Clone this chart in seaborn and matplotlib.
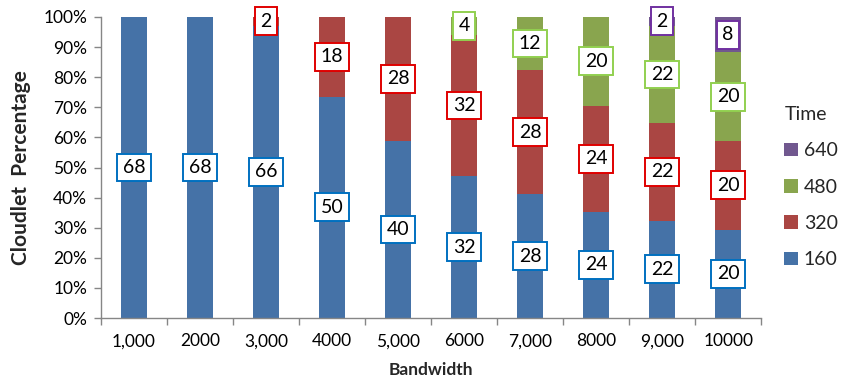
import matplotlib
matplotlib.use("Agg")
import matplotlib.pyplot as plt
import pandas as pd
import seaborn as sns
from matplotlib.patches import Patch
from matplotlib.ticker import FixedLocator, PercentFormatter

# Cloudlet counts per execution-time class, for each bandwidth setting
bandwidth = ["1,000", "2000", "3,000", "4000", "5,000", "6000", "7,000", "8000", "9,000", "10000"]
time_levels = ["160", "320", "480", "640"]
count_160 = [68, 68, 66, 50, 40, 32, 28, 24, 22, 20]
count_320 = [0, 0, 2, 18, 28, 32, 28, 24, 22, 20]
count_480 = [0, 0, 0, 0, 0, 4, 12, 20, 22, 20]
count_640 = [0, 0, 0, 0, 0, 0, 0, 0, 2, 8]

fill = {"160": "#4572A7", "320": "#AA4643", "480": "#89A54E", "640": "#71588F"}
box_edge = {"160": "#0070C0", "320": "#E00000", "480": "#92D050", "640": "#7030A0"}

sns.set_theme(style="white")
plt.rcParams["font.family"] = ["Lato", "DejaVu Sans"]

counts = pd.DataFrame(
    {"160": count_160, "320": count_320, "480": count_480, "640": count_640},
    index=bandwidth,
)
share = counts.div(counts.sum(axis=1), axis=0) * 100
cum = share.cumsum(axis=1)

fig = plt.figure(figsize=(8.42, 3.86), dpi=100)
ax = fig.add_axes([0.12, 0.176, 0.784, 0.78])

# 100% stacked bars: draw cumulative heights from the top class down
for lvl in reversed(time_levels):
    df = pd.DataFrame({"Bandwidth": bandwidth, "top": cum[lvl].values})
    sns.barplot(data=df, x="Bandwidth", y="top", color=fill[lvl], width=0.4,
                saturation=1, ax=ax, linewidth=0)

# Boxed count labels at the middle of each segment
for lvl in time_levels:
    for i, bw in enumerate(bandwidth):
        n = counts.loc[bw, lvl]
        if n <= 0:
            continue
        y = cum.loc[bw, lvl] - share.loc[bw, lvl] / 2
        ax.text(i, y, f"{n}", ha="center", va="center", fontsize=14, color="black",
                bbox=dict(boxstyle="square,pad=0.28", fc="white", ec=box_edge[lvl], lw=1.4),
                zorder=5)

ax.set_xlim(-0.5, len(bandwidth) - 0.5)
ax.set_ylim(0, 100)
ax.yaxis.set_major_locator(FixedLocator(range(0, 101, 10)))
ax.yaxis.set_major_formatter(PercentFormatter(decimals=0))
ax.xaxis.set_minor_locator(FixedLocator([i - 0.5 for i in range(len(bandwidth) + 1)]))

for side in ("top", "right"):
    ax.spines[side].set_visible(False)
for side in ("left", "bottom"):
    ax.spines[side].set_color("#868686")
    ax.spines[side].set_linewidth(1)

ax.tick_params(axis="y", which="major", direction="out", length=5, width=1,
               color="#868686", labelsize=12.5, labelcolor="black", left=True, pad=5)
ax.tick_params(axis="x", which="major", length=0, labelsize=12.5, labelcolor="black", pad=11)
ax.tick_params(axis="x", which="minor", direction="out", length=5, width=1,
               color="#868686", bottom=True)

ax.set_xlabel("Bandwidth", fontsize=12.5, fontweight="bold", labelpad=9)
ax.set_ylabel("Cloudlet  Percentage", fontsize=15, fontweight="bold", labelpad=9)

handles = [Patch(facecolor=fill[l], edgecolor="none") for l in reversed(time_levels)]
leg = ax.legend(handles, list(reversed(time_levels)), title="Time", loc="center left",
                bbox_to_anchor=(1.035, 0.435), frameon=False, fontsize=14, title_fontsize=14,
                handlelength=0.7, handleheight=0.7, labelspacing=1.0, handletextpad=0.3,
                borderpad=0, borderaxespad=0)
leg._legend_box.align = "left"

fig.savefig("out.png", dpi=100)
